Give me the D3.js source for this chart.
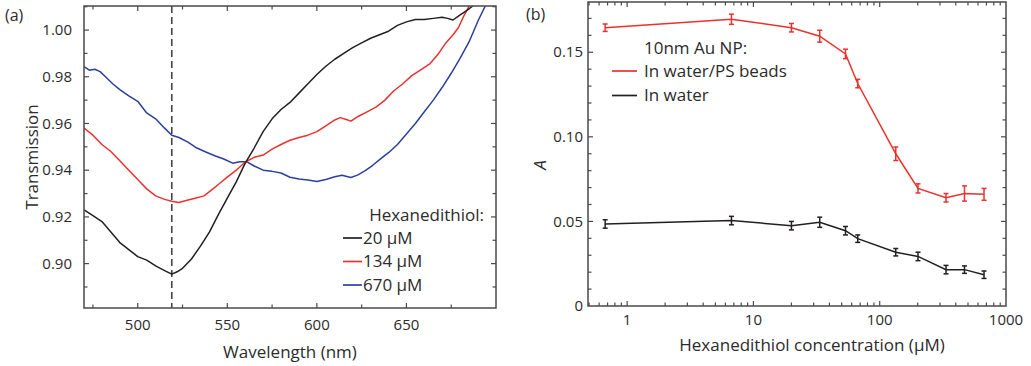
<!DOCTYPE html>
<html><head><meta charset="utf-8">
<script src="https://cdn.jsdelivr.net/npm/d3@7"></script>
<style>
body{margin:0;background:#fff;}
text{font-family:"Open Sans",sans-serif;fill:#2b2b2b;}
</style></head>
<body><svg id="c" width="1031" height="366"></svg>
<script>
// ---------- Panel (a) data: transmission spectra ----------
const specBlack = [[470,0.923],[475,0.9205],[480,0.918],[485,0.9135],[490,0.909],[495,0.906],[500,0.903],[505,0.9015],[510,0.899],[515,0.897],[519,0.8955],[522,0.8965],[525,0.898],[530,0.902],[535,0.9075],[540,0.9135],[545,0.921],[550,0.928],[555,0.935],[560,0.943],[565,0.9495],[570,0.9565],[575,0.962],[580,0.966],[585,0.969],[590,0.973],[595,0.977],[600,0.981],[605,0.9845],[610,0.9875],[615,0.990],[620,0.9925],[625,0.9945],[630,0.9965],[635,0.998],[640,0.9995],[645,1.002],[650,1.0035],[655,1.0045],[660,1.0045],[665,1.005],[670,1.0055],[673,1.005],[676,1.0043],[680,1.0065],[684,1.0085],[687,1.0103]];
const specRed = [[470,0.958],[475,0.955],[480,0.951],[485,0.948],[490,0.944],[495,0.940],[500,0.936],[505,0.932],[510,0.929],[515,0.9275],[519,0.9267],[523,0.9262],[527,0.927],[532,0.928],[537,0.929],[542,0.932],[546,0.9345],[550,0.937],[555,0.940],[560,0.9435],[565,0.9455],[570,0.9465],[575,0.949],[580,0.951],[585,0.9528],[590,0.954],[595,0.955],[600,0.9565],[605,0.959],[610,0.9615],[613,0.9625],[616,0.9618],[619,0.961],[623,0.963],[628,0.965],[633,0.967],[638,0.970],[643,0.974],[648,0.977],[653,0.9805],[658,0.983],[663,0.9855],[668,0.990],[672,0.9945],[676,0.998],[679,1.001],[682,1.006],[685,1.0103]];
const specBlue = [[470,0.9843],[473,0.9828],[476,0.9832],[479,0.9822],[482,0.980],[486,0.977],[490,0.9745],[495,0.9718],[500,0.9695],[505,0.9645],[510,0.962],[515,0.958],[519,0.955],[523,0.954],[528,0.952],[533,0.9495],[538,0.9478],[543,0.9462],[548,0.9448],[553,0.943],[557,0.9436],[561,0.9436],[565,0.9418],[570,0.940],[575,0.9395],[580,0.9388],[585,0.937],[590,0.9362],[595,0.9358],[600,0.9352],[605,0.936],[610,0.9372],[614,0.9378],[619,0.9369],[623,0.938],[627,0.9398],[631,0.942],[635,0.9445],[640,0.9475],[645,0.951],[650,0.9555],[655,0.960],[660,0.965],[665,0.970],[670,0.9755],[675,0.9815],[680,0.988],[685,0.995],[690,1.004],[694,1.0103]];
const specLabels = ["20 µM","134 µM","670 µM"];
const markerWavelength = 519;
const aXTicks = [500,550,600,650];
const aYTicks = [0.90,0.92,0.94,0.96,0.98,1.00];

// ---------- Panel (b) data: absorbance vs concentration ----------
const conc = [0.67,6.7,20,33.5,53.6,67,134,201,335,469,670];
const absPS = [0.1645,0.1695,0.1645,0.1595,0.149,0.1315,0.090,0.0695,0.064,0.0665,0.0660];
const errPS = [0.0022,0.0030,0.0025,0.0035,0.0028,0.0025,0.0040,0.0027,0.0025,0.0045,0.0035];
const absWater = [0.0485,0.0505,0.0475,0.0495,0.0445,0.0398,0.0318,0.0293,0.0215,0.0215,0.0185];
const errWater = [0.0025,0.0025,0.0025,0.0030,0.0025,0.0022,0.0022,0.0025,0.0025,0.0022,0.0022];
const bSeriesLabels = ["In water/PS beads","In water"];
const bXTicks = [1,10,100,1000];
const bYTicks = [0,0.05,0.10,0.15];

const BLACK="#231f20", RED="#e8322e", BLUE="#2d3f9c", AX="#4a4a4a";
const svg = d3.select("#c");
const TICKFS=15, LABFS=17;

function frame(g, x0,x1,y0,y1){
  g.append("rect").attr("x",x0).attr("y",y0).attr("width",x1-x0).attr("height",y1-y0)
   .attr("fill","none").attr("stroke",AX).attr("stroke-width",1.5);
}
function tickLine(g,x1,y1,x2,y2){
  g.append("line").attr("x1",x1).attr("y1",y1).attr("x2",x2).attr("y2",y2)
   .attr("stroke",AX).attr("stroke-width",1.2);
}

// ===== Panel (a) =====
{
  const L=84,R=496,T=6,B=308;
  const x=d3.scaleLinear().domain([470,700]).range([L,R]);
  const y=d3.scaleLinear().domain([0.881,1.0103]).range([B,T]);
  const g=svg.append("g");
  const defs=svg.append("defs");
  defs.append("clipPath").attr("id","clipA").append("rect").attr("x",L).attr("y",T).attr("width",R-L).attr("height",B-T);
  d3.range(475,700,25).forEach(v=>{
    const len = (v%50===0)?5:3.5;
    tickLine(g,x(v),B,x(v),B-len); tickLine(g,x(v),T,x(v),T+len);
  });
  d3.range(0.89,1.0101,0.01).forEach(v=>{
    const major = aYTicks.some(t=>Math.abs(t-v)<1e-6);
    const len = major?5:3.5;
    tickLine(g,L,y(v),L+len,y(v)); tickLine(g,R,y(v),R-len,y(v));
  });
  aXTicks.forEach(v=>g.append("text").attr("x",x(v)).attr("y",B+17).attr("dy","0.35em")
    .attr("text-anchor","middle").attr("font-size",TICKFS).text(v));
  aYTicks.forEach(v=>g.append("text").attr("x",L-12).attr("y",y(v)).attr("dy","0.35em")
    .attr("text-anchor","end").attr("font-size",TICKFS).text(v.toFixed(2)));
  g.append("line").attr("x1",x(markerWavelength)).attr("x2",x(markerWavelength)).attr("y1",T).attr("y2",B)
    .attr("stroke","#444").attr("stroke-width",1.6).attr("stroke-dasharray","7,4");
  const line=d3.line().x(d=>x(d[0])).y(d=>y(d[1]));
  const series=[[specBlue,BLUE],[specRed,RED],[specBlack,BLACK]];
  series.forEach(([d,c])=>g.append("path").attr("d",line(d)).attr("fill","none")
    .attr("stroke",c).attr("stroke-width",1.5).attr("stroke-linejoin","round").attr("clip-path","url(#clipA)"));
  frame(g,L,R,T,B);
  g.append("text").attr("x",484).attr("y",215).attr("dy","0.35em").attr("text-anchor","end")
    .attr("font-size",LABFS).text("Hexanedithiol:");
  [BLACK,RED,BLUE].forEach((c,i)=>{
    const yy=238+i*23.5;
    g.append("line").attr("x1",343).attr("x2",362).attr("y1",yy).attr("y2",yy).attr("stroke",c).attr("stroke-width",1.7);
    g.append("text").attr("x",363).attr("y",yy).attr("dy","0.35em").attr("font-size",LABFS).text(specLabels[i]);
  });
  g.append("text").attr("x",(L+R)/2).attr("y",352).attr("dy","0.35em").attr("text-anchor","middle")
    .attr("font-size",LABFS).text("Wavelength (nm)");
  g.append("text").attr("transform",`translate(32,${(T+B)/2}) rotate(-90)`).attr("dy","0.35em")
    .attr("text-anchor","middle").attr("font-size",LABFS).text("Transmission");
  g.append("text").attr("x",5).attr("y",15).attr("dy","0.35em").attr("font-size",16).text("(a)");
}

// ===== Panel (b) =====
{
  const L=588,R=1006,T=2,B=306;
  const x=d3.scaleLog().domain([0.49,1000]).range([L,R]);
  const y=d3.scaleLinear().domain([0,0.1797]).range([B,T]);
  const g=svg.append("g");
  [0.1,1,10,100].forEach(dec=>{
    for(let k=1;k<10;k++){
      const v=dec*k;
      if(v<0.49||v>1000) continue;
      const len=(k===1)?5:3.5;
      tickLine(g,x(v),B,x(v),B-len); tickLine(g,x(v),T,x(v),T+len);
    }
  });
  d3.range(0.01,0.1701,0.01).forEach(v=>{
    const major = bYTicks.some(t=>Math.abs(t-v)<1e-6);
    const len=major?5:3.5;
    tickLine(g,L,y(v),L+len,y(v)); tickLine(g,R,y(v),R-len,y(v));
  });
  bXTicks.forEach(v=>g.append("text").attr("x",x(v)).attr("y",B+14).attr("dy","0.35em")
    .attr("text-anchor","middle").attr("font-size",TICKFS).text(v));
  bYTicks.forEach(v=>g.append("text").attr("x",L-5).attr("y",y(v)).attr("dy","0.35em")
    .attr("text-anchor","end").attr("font-size",TICKFS).text(v===0?"0":v.toFixed(2)));
  const line=d3.line().x((d,i)=>x(conc[i])).y(d=>y(d));
  [[absWater,errWater,BLACK],[absPS,errPS,RED]].forEach(([vals,errs,c])=>{
    g.append("path").attr("d",line(vals)).attr("fill","none").attr("stroke",c).attr("stroke-width",1.5);
    vals.forEach((v,i)=>{
      const cx=x(conc[i]);
      g.append("line").attr("x1",cx).attr("x2",cx).attr("y1",y(v-errs[i])).attr("y2",y(v+errs[i])).attr("stroke",c).attr("stroke-width",1.5);
      [v-errs[i],v+errs[i]].forEach(e=>g.append("line").attr("x1",cx-2.5).attr("x2",cx+2.5)
        .attr("y1",y(e)).attr("y2",y(e)).attr("stroke",c).attr("stroke-width",1.5));
    });
  });
  frame(g,L,R,T,B);
  g.append("text").attr("x",644).attr("y",48).attr("dy","0.35em").attr("font-size",LABFS).text("10nm Au NP:");
  [RED,BLACK].forEach((c,i)=>{
    const yy=71+i*24.5;
    g.append("line").attr("x1",612).attr("x2",637).attr("y1",yy).attr("y2",yy).attr("stroke",c).attr("stroke-width",1.7);
    g.append("text").attr("x",644).attr("y",yy).attr("dy","0.35em").attr("font-size",LABFS).text(bSeriesLabels[i]);
  });
  g.append("text").attr("x",812).attr("y",345).attr("dy","0.35em").attr("text-anchor","middle")
    .attr("font-size",LABFS).text("Hexanedithiol concentration (µM)");
  g.append("text").attr("transform",`translate(540,165) rotate(-90)`).attr("dy","0.35em")
    .attr("text-anchor","middle").attr("font-size",LABFS).attr("font-style","italic").text("A");
  g.append("text").attr("x",526).attr("y",14).attr("dy","0.35em").attr("font-size",16).text("(b)");
}
</script></body></html>
